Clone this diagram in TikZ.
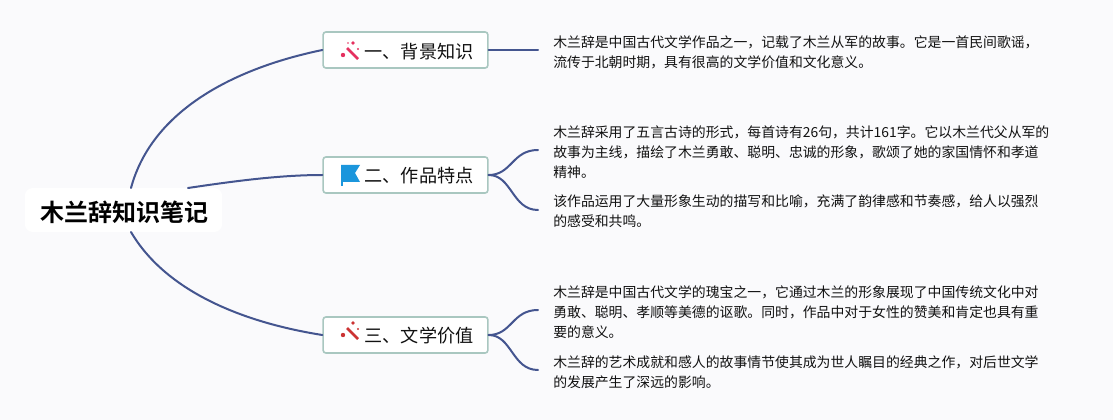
\documentclass[tikz,border=0pt]{standalone}
\usepackage{fontspec}
\setmainfont{Noto Sans CJK SC}
\newfontfamily\rootfont{Noto Sans CJK SC Bold}
\definecolor{bgc}{HTML}{FAFAFC}
\definecolor{linec}{HTML}{44558F}
\definecolor{boxc}{HTML}{A9C7C0}
\definecolor{inkc}{HTML}{111111}
\definecolor{pinkc}{HTML}{E5305F}
\definecolor{redc}{HTML}{CC3333}
\definecolor{bluec}{HTML}{1B96DC}
\tikzset{
  x=0.75pt,y=-0.75pt,
  conn/.style={draw=linec,line width=1.5pt,line cap=round},
  rootbox/.style={fill=white,rounded corners=6pt,minimum width=148pt,minimum height=33pt,inner sep=0pt,font=\rootfont\fontsize{18}{22}\selectfont,text=black},
  topic/.style={draw=boxc,fill=white,line width=1.2pt,rounded corners=2pt,minimum width=123.5pt,minimum height=27pt,inner sep=0pt,font=\fontsize{13.6}{16}\selectfont,text=inkc},
  para/.style={anchor=north west,align=left,inner sep=0pt,font=\fontsize{10.4}{15}\selectfont,text=inkc},
  toptext/.style={inner sep=0pt,font=\fontsize{13.6}{16}\selectfont,text=inkc},
}
\begin{document}
\begin{tikzpicture}
\useasboundingbox (0,0) rectangle (1113,420);
\fill[bgc] (0,0) rectangle (1113,420);
% end points
\coordinate (r1) at (131,188);
\coordinate (r2) at (188,188);
\coordinate (r3) at (131,232);
\coordinate (e1) at (538,50);
\coordinate (e2a) at (538,150);
\coordinate (e2b) at (538,210);
\coordinate (e3a) at (538,310);
\coordinate (e3b) at (538,370);
% nodes
\node[rootbox] (root) at (123.5,210) {};
\node[inner sep=0pt,font=\rootfont\fontsize{18}{22}\selectfont,text=black] (rt) at (124.5,212) {木兰辞知识笔记};
\node[topic] (t1) at (405.5,50) {};
\node[topic] (t2) at (405.5,175) {};
\node[topic] (t3) at (405.5,335) {};
\node[toptext] (l1) at (419,52) {一、背景知识};
\node[toptext] (l2) at (419,176) {二、作品特点};
\node[toptext] (l3) at (419,336) {三、文学价值};
\node[para] (p1) at (553,35) {木兰辞是中国古代文学作品之一，记载了木兰从军的故事。它是一首民间歌谣，\\流传于北朝时期，具有很高的文学价值和文化意义。};
\node[para] (p2) at (553,125) {木兰辞采用了五言古诗的形式，每首诗有26句，共计161字。它以木兰代父从军的\\故事为主线，描绘了木兰勇敢、聪明、忠诚的形象，歌颂了她的家国情怀和孝道\\精神。};
\node[para] (p3) at (553,195) {该作品运用了大量形象生动的描写和比喻，充满了韵律感和节奏感，给人以强烈\\的感受和共鸣。};
\node[para] (p4) at (553,285) {木兰辞是中国古代文学的瑰宝之一，它通过木兰的形象展现了中国传统文化中对\\勇敢、聪明、孝顺等美德的讴歌。同时，作品中对于女性的赞美和肯定也具有重\\要的意义。};
\node[para] (p5) at (553,355) {木兰辞的艺术成就和感人的故事情节使其成为世人瞩目的经典之作，对后世文学\\的发展产生了深远的影响。};
% connectors
\draw[conn] (r1) .. controls (152,110) and (235,68) .. (t1.west);
\draw[conn] (r2) .. controls (235,181) and (280,175) .. (t2.west);
\draw[conn] (r3) .. controls (165,290) and (240,322) .. (t3.west);
\draw[conn] (t1.east) -- (e1);
\draw[conn] (t2.east) .. controls (512,175) and (512,150) .. (e2a);
\draw[conn] (t2.east) .. controls (512,175) and (512,210) .. (e2b);
\draw[conn] (t3.east) .. controls (512,335) and (512,310) .. (e3a);
\draw[conn] (t3.east) .. controls (512,335) and (512,370) .. (e3b);
% icons
\draw[pinkc,line width=2pt] (347,48) -- (358,59);
\fill[pinkc] (343,55) circle (2.2) (353,43) circle (1.8) (358,49) circle (1.2) (348,43) circle (.8);
\fill[bluec] (341,165) -- (360,165) -- (355,173) -- (360,182) -- (341,182) -- cycle;
\fill[bluec] (341,165) rectangle (342.5,186);
\draw[redc,line width=2pt] (347,328) -- (358,339);
\fill[redc] (343,335) circle (2.2) (353,323) circle (1.8) (358,329) circle (1.2);
\end{tikzpicture}
\end{document}
